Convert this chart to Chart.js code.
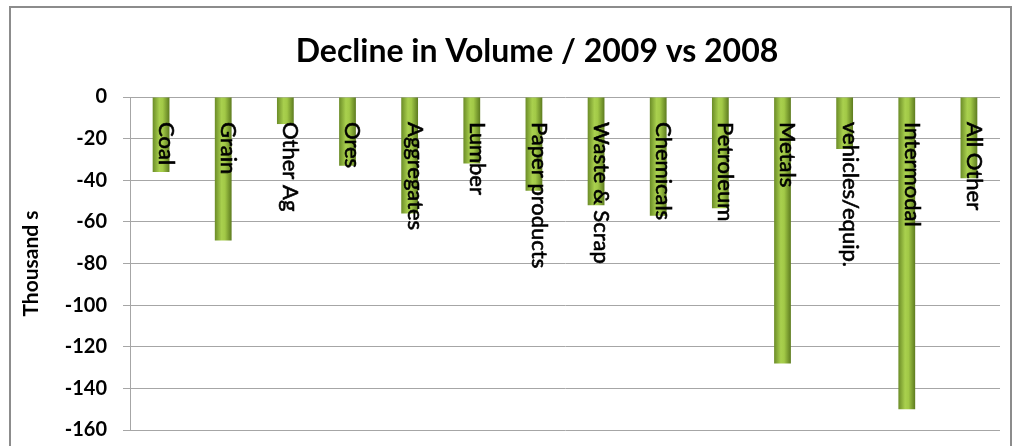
<!DOCTYPE html>
<html>
<head>
<meta charset="utf-8">
<script src="https://cdn.jsdelivr.net/npm/chart.js@4"></script>
<style>
  html, body { margin: 0; padding: 0; background: #fff; }
  #wrap { position: relative; width: 1013px; height: 446px; }
</style>
</head>
<body>
<div id="wrap"><canvas id="chart"></canvas></div>
<script>
const categories = ["Coal", "Grain", "Other Ag", "Ores", "Aggregates", "Lumber", "Paper products",
    "Waste & Scrap", "Chemicals", "Petroleum", "Metals", "vehicles/equip.", "Intermodal", "All Other"];
const decline = [-36, -69, -13, -33, -56, -32, -45, -52, -57, -53.5, -128, -25, -150, -39];
const yTicks = [0, -20, -40, -60, -80, -100, -120, -140, -160];

const FONT = "Lato, 'Open Sans', sans-serif";
const BAR_PCT = 0.27;

// outer frame of the chart box, and nudge the title to the right like excel does
const frame = {
    id: "frame",
    afterLayout(chart) {
        if (chart.titleBlock) chart.titleBlock.left += 58;
    },
    beforeDraw(chart) {
        const ctx = chart.ctx;
        ctx.save();
        ctx.fillStyle = "#fff";
        ctx.fillRect(0, 0, chart.width, chart.height);
        ctx.strokeStyle = "#8c8c8c";
        ctx.lineWidth = 2;
        ctx.strokeRect(10, 7, 1001, 450);
        ctx.restore();
    }
};

// category names drawn rotated just under the zero line
const barLabels = {
    id: "barLabels",
    afterDatasetsDraw(chart) {
        const ctx = chart.ctx;
        const meta = chart.getDatasetMeta(0);
        const y0 = chart.scales.y.getPixelForValue(0);
        ctx.save();
        ctx.font = "22px " + FONT;
        ctx.fillStyle = "#000";
        ctx.strokeStyle = "#000";
        ctx.lineWidth = 0.6;
        ctx.textAlign = "left";
        ctx.textBaseline = "middle";
        meta.data.forEach((bar, i) => {
            ctx.save();
            ctx.translate(bar.x + 5, y0 + 25);
            ctx.rotate(Math.PI / 2);
            ctx.fillText(categories[i], 0, 0);
            ctx.strokeText(categories[i], 0, 0);
            ctx.restore();
        });
        ctx.restore();
    }
};

const barFill = (c) => {
    const chart = c.chart;
    const xs = chart.scales.x;
    if (!xs || c.dataIndex === undefined) return "#8db33a";
    const cx = xs.getPixelForValue(c.dataIndex);
    const w = (xs.width / categories.length) * BAR_PCT;
    if (!isFinite(cx) || !isFinite(w) || w <= 0) return "#8db33a";
    const g = chart.ctx.createLinearGradient(cx - w / 2, 0, cx + w / 2, 0);
    g.addColorStop(0, "#6b8c27");
    g.addColorStop(0.4, "#a9d04e");
    g.addColorStop(0.6, "#a2c947");
    g.addColorStop(1, "#5d7b1f");
    return g;
};

const ctx = document.getElementById("chart").getContext("2d");
const myChart = new Chart(ctx, {
    type: "bar",
    data: {
        labels: categories,
        datasets: [{
            label: "Decline in Volume",
            data: decline,
            backgroundColor: barFill,
            borderWidth: 0,
            barPercentage: BAR_PCT,
            categoryPercentage: 1,
        }],
    },
    options: {
        responsive: true,
        maintainAspectRatio: false,
        animation: false,
        layout: { padding: { top: 8, left: 16, right: 13, bottom: 16 } },
        plugins: {
            legend: { display: false },
            tooltip: { enabled: false },
            title: {
                display: true,
                text: "Decline in Volume / 2009 vs 2008",
                color: "#000",
                font: { family: FONT, size: 32, weight: "bold" },
                padding: { top: 24, bottom: 26.6 },
            },
        },
        scales: {
            x: {
                display: false,
            },
            y: {
                min: -160,
                max: 0,
                afterBuildTicks: (scale) => { scale.ticks = yTicks.map(v => ({ value: v })); },
                afterFit: (scale) => {
                    scale.width = 114;
                    scale.paddingTop = 0;
                    scale.paddingBottom = 0;
                },
                ticks: {
                    color: "#000",
                    padding: 16,
                    font: { family: FONT, size: 20, weight: "bold" },
                },
                grid: { color: "#a6a6a6", tickLength: 7, lineWidth: 1 },
                border: { color: "#a6a6a6" },
                title: {
                    display: true,
                    text: "Thousand s",
                    color: "#000",
                    font: { family: FONT, size: 21, weight: "bold" },
                    padding: { top: 3, bottom: 0 },
                },
            },
        },
    },
    plugins: [frame, barLabels],
});
</script>
</body>
</html>
